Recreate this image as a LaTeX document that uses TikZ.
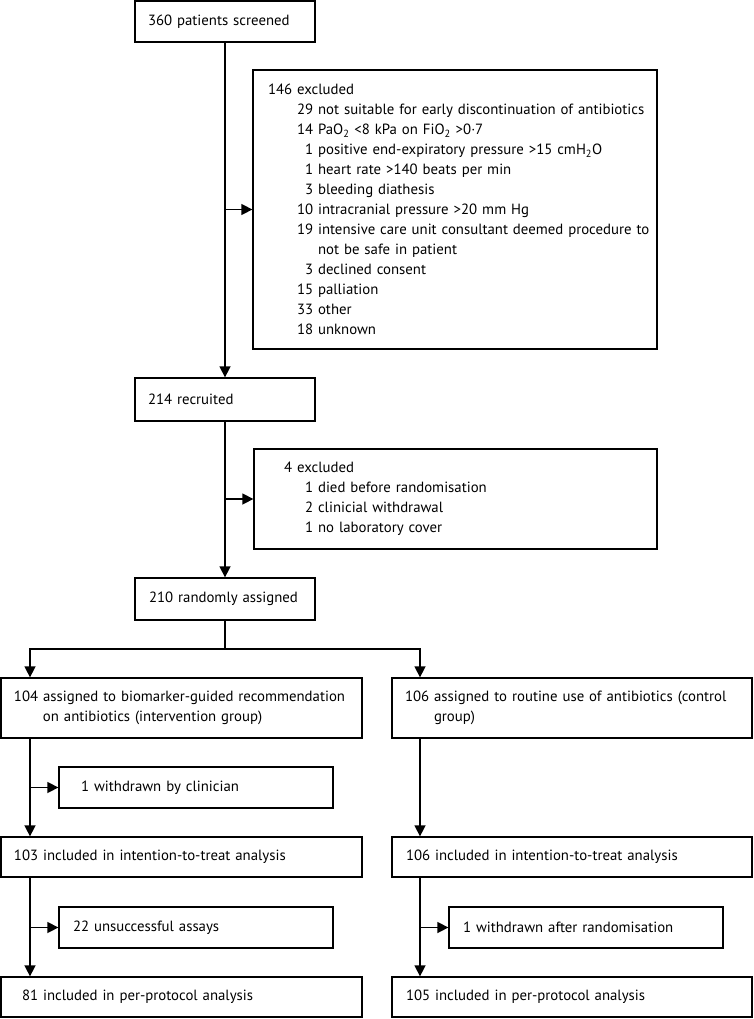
\documentclass[tikz,border=0pt]{standalone}
\usepackage{fontspec}
\setmainfont{PT Sans}
\usetikzlibrary{arrows.meta,calc}
\tikzset{
  box/.style={draw, line width=1.3pt, inner xsep=0pt, inner ysep=0pt, align=left,
    font=\fontsize{14.8}{20}\selectfont},
  arr/.style={line width=1.5pt, -{Triangle[length=11pt,width=11pt]}},
  ln/.style={line width=1.5pt},
}
\newcommand{\ph}{\hphantom{0}}
\newcommand{\ind}[1]{\hspace*{#1pt}}
\begin{document}
\begin{tikzpicture}[x=1pt,y=-1pt]
\useasboundingbox (0,0) rectangle (754,1019);
% boxes
\node[box, minimum width=180pt, minimum height=41pt, text width=180pt] (screen) at (225,21.5) {\ind{13}360 patients screened};
\node[box, minimum width=404pt, minimum height=279pt, text width=404pt] (excl1) at (455,209.5) {%
\ind{15}146 excluded\\
\ind{44}29 not suitable for early discontinuation of antibiotics\\
\ind{44}14 PaO\textsubscript{2} {<}8 kPa on FiO\textsubscript{2} {>}0·7\\
\ind{44}\ph1 positive end-expiratory pressure {>}15 cmH\textsubscript{2}O\\
\ind{44}\ph1 heart rate {>}140 beats per min\\
\ind{44}\ph3 bleeding diathesis\\
\ind{44}10 intracranial pressure {>}20 mm Hg\\
\ind{44}19 intensive care unit consultant deemed procedure to\\
\ind{44}\hphantom{19 }not be safe in patient\\
\ind{44}\ph3 declined consent\\
\ind{44}15 palliation\\
\ind{44}33 other\\
\ind{44}18 unknown};
\node[box, minimum width=180pt, minimum height=43pt, text width=180pt] (recruited) at (225,399.5) {\ind{13}214 recruited};
\node[box, minimum width=403pt, minimum height=100pt, text width=403pt] (excl2) at (455.5,499) {%
\ind{14}\ph\ph4 excluded\\
\ind{43}\ph1 died before randomisation\\
\ind{43}\ph2 clinicial withdrawal\\
\ind{43}\ph1 no laboratory cover};
\node[box, minimum width=180pt, minimum height=42pt, text width=180pt] (rand) at (225,599) {\ind{14}210 randomly assigned};
\node[box, minimum width=361pt, minimum height=60pt, text width=361pt] (int) at (181.5,708) {%
\ind{13}104 assigned to biomarker-guided recommendation\\
\ind{42}on antibiotics (intervention group)};
\node[box, minimum width=360pt, minimum height=60pt, text width=360pt] (ctl) at (572,708) {%
\ind{13}106 assigned to routine use of antibiotics (control\\
\ind{42}group)};
\node[box, minimum width=274pt, minimum height=41pt, text width=274pt] (wd1) at (196,787.5) {\ind{14}\ph1 withdrawn by clinician};
\node[box, minimum width=361pt, minimum height=40pt, text width=361pt] (itt1) at (181.5,857) {\ind{13}103 included in intention-to-treat analysis};
\node[box, minimum width=360pt, minimum height=40pt, text width=360pt] (itt2) at (572,857) {\ind{14}106 included in intention-to-treat analysis};
\node[box, minimum width=274pt, minimum height=41pt, text width=274pt] (un) at (196,927.5) {\ind{14}22 unsuccessful assays};
\node[box, minimum width=274pt, minimum height=41pt, text width=274pt] (wd2) at (586,927.5) {\ind{14}1 withdrawn after randomisation};
\node[box, minimum width=361pt, minimum height=40pt, text width=361pt] (pp1) at (181.5,997) {\ind{13}\ph81 included in per-protocol analysis};
\node[box, minimum width=360pt, minimum height=40pt, text width=360pt] (pp2) at (572,997) {\ind{14}105 included in per-protocol analysis};
% connectors
\coordinate (sp) at (225,649);
\coordinate (L) at (30,649);
\coordinate (R) at (420,649);
\draw[arr] (screen.south) -- (recruited.north);
\draw[arr] (excl1.west -| screen.south) -- (excl1.west);
\draw[arr] (recruited.south) -- (rand.north);
\draw[arr] (excl2.west -| recruited.south) -- (excl2.west);
\draw[ln] (rand.south) -- (sp);
\draw[arr] (sp) -- (L) -- (L |- int.north);
\draw[arr] (sp) -- (R) -- (R |- ctl.north);
\draw[arr] (int.south -| L) -- (itt1.north -| L);
\draw[arr] (wd1.west -| L) -- (wd1.west);
\draw[arr] (itt1.south -| L) -- (pp1.north -| L);
\draw[arr] (un.west -| L) -- (un.west);
\draw[arr] (ctl.south -| R) -- (itt2.north -| R);
\draw[arr] (itt2.south -| R) -- (pp2.north -| R);
\draw[arr] (wd2.west -| R) -- (wd2.west);
\end{tikzpicture}
\end{document}
